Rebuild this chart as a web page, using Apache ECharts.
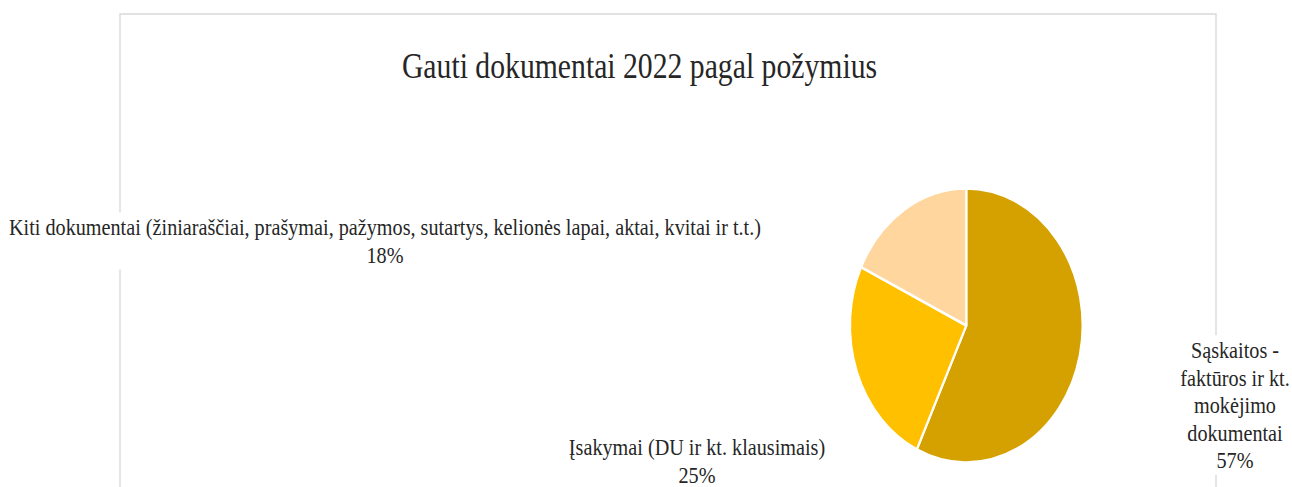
<!DOCTYPE html>
<html>
<head>
<meta charset="utf-8">
<script src="https://cdn.jsdelivr.net/npm/echarts@6/dist/echarts.min.js"></script>
<style>
html,body{margin:0;padding:0;background:#fff;overflow:hidden;width:1292px;height:487px;}
#chart{position:absolute;left:0;top:0;height:487px;transform-origin:0 0;}
</style>
</head>
<body>
<div id="chart"></div>
<script>
// ---- data ----
const chartTitle = 'Gauti dokumentai 2022 pagal požymius';
const categories = [
  'Sąskaitos - faktūros ir kt. mokėjimo dokumentai',
  'Įsakymai (DU ir kt. klausimais)',
  'Kiti dokumentai (žiniaraščiai, prašymai, pažymos, sutartys, kelionės lapai, aktai, kvitai ir t.t.)'
];
const labelLinesText = [
  ['Sąskaitos -', 'faktūros ir kt.', 'mokėjimo', 'dokumentai'],
  null,
  null
];
const values = [57, 25, 18];
const colors = ['#D4A100', '#FFC000', '#FFD79E'];

// ---- layout (horizontal squeeze of the original picture) ----
const S = 0.849;
const W = 1292 / S;
const el = document.getElementById('chart');
el.style.width = W + 'px';
el.style.transform = 'scaleX(' + S + ')';

const labelPos = [
  {x: 1235 / S, y: 405},
  {x: 697 / S, y: 461},
  {x: 385 / S, y: 241}
];

const chart = echarts.init(el, null, {renderer: 'svg', width: W, height: 487});
const font = '"Liberation Serif", "Times New Roman", serif';

chart.setOption({
  animation: false,
  backgroundColor: '#ffffff',
  graphic: [
    {type: 'rect', z: 0, silent: true,
     shape: {x: 120 / S, y: 14, width: (1216 - 120) / S, height: 520},
     style: {fill: 'none', stroke: '#d9d9d9', lineWidth: 1.6}},
    {type: 'text', z: 1, x: 639.5 / S, y: 66,
     style: {text: chartTitle, fontFamily: font, fontSize: 35, fill: '#262626',
             textAlign: 'center', textVerticalAlign: 'middle'}}
  ],
  series: [{
    type: 'pie',
    z: 5,
    center: [966.3 / S, 325.5],
    radius: 137,
    startAngle: 90,
    clockwise: true,
    itemStyle: {borderColor: '#ffffff', borderWidth: 2.6},
    label: {
      show: true,
      formatter: function (p) {
        const lines = labelLinesText[p.dataIndex];
        return (lines ? lines.join('\n') : p.name) + '\n' + p.percent + '%';
      },
      fontFamily: font,
      fontSize: 23.8,
      lineHeight: 27.5,
      color: '#262626',
      align: 'center',
      backgroundColor: '#ffffff',
      padding: [2, 6, 0, 6]
    },
    labelLine: {show: false},
    emphasis: {disabled: true},
    labelLayout: function (p) {
      const pos = labelPos[p.dataIndex];
      return {x: pos.x, y: pos.y, align: 'center', verticalAlign: 'middle'};
    },
    data: categories.map((c, i) => ({name: c, value: values[i], itemStyle: {color: colors[i]}}))
  }]
});
</script>
</body>
</html>
